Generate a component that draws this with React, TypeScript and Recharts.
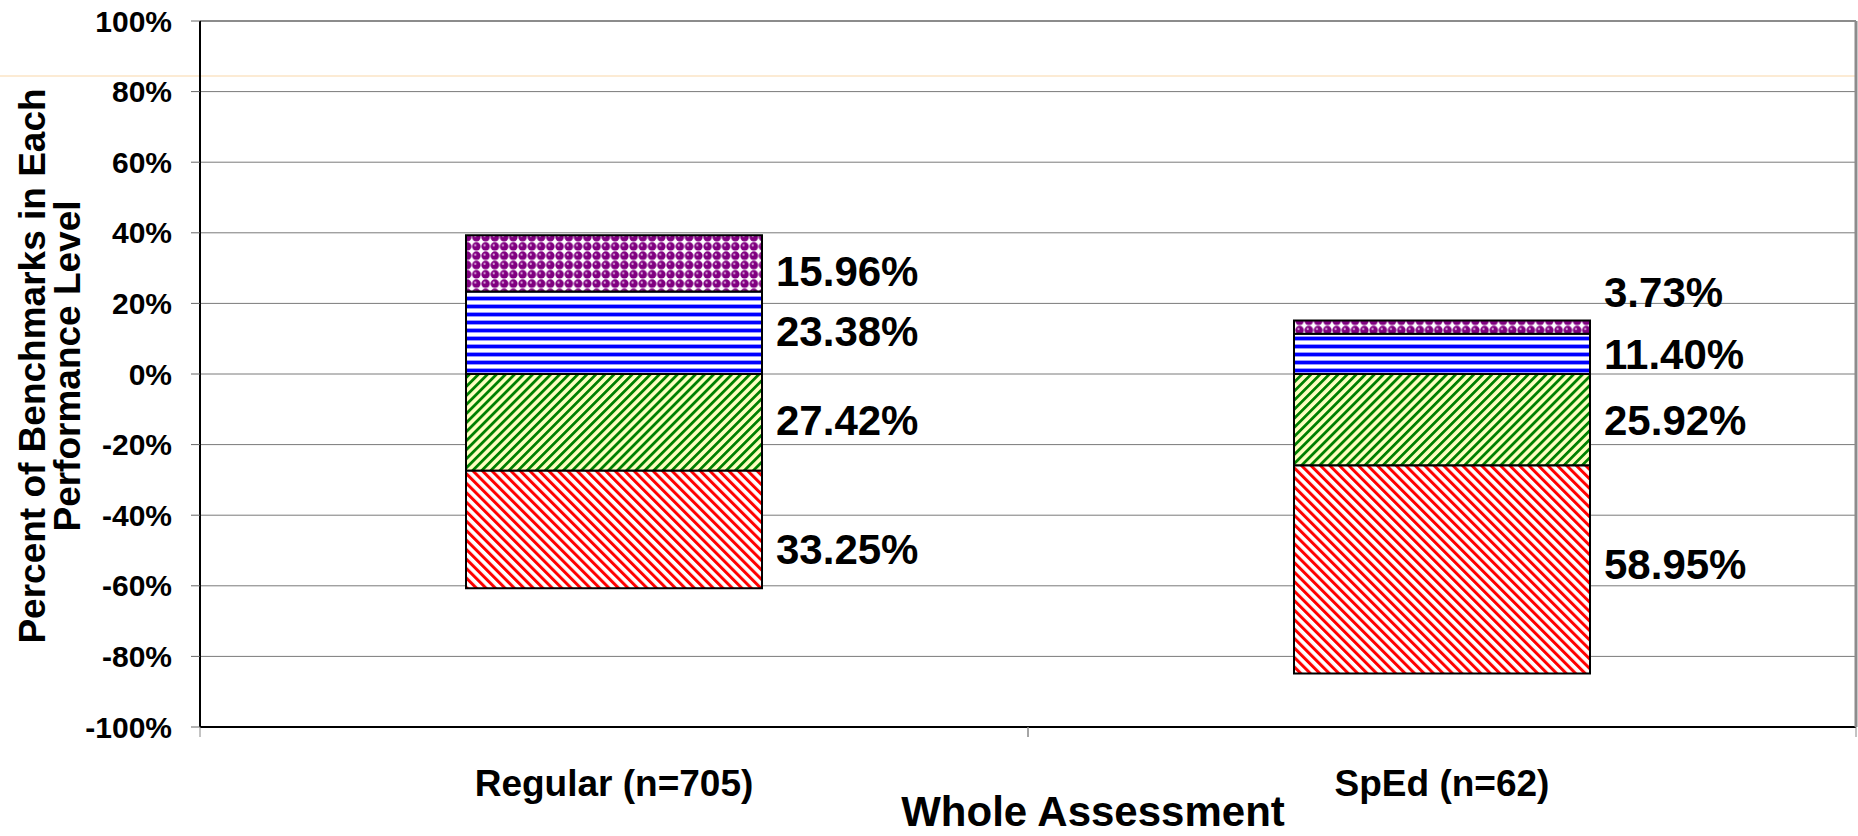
import { BarChart, Bar, XAxis, YAxis, CartesianGrid, ReferenceLine, LabelList, Label } from "recharts";

const CATEGORIES = ["Regular (n=705)", "SpEd (n=62)"];
// performance levels, stacked outwards from 0
const ABOVE = [15.96, 3.73];
const MEETS = [23.38, 11.4];
const BELOW = [-27.42, -25.92];
const FAR_BELOW = [-33.25, -58.95];
const Y_TICKS = [-100, -80, -60, -40, -20, 0, 20, 40, 60, 80, 100];

const data = CATEGORIES.map((name, i) => ({
  name,
  above: ABOVE[i],
  meets: MEETS[i],
  below: BELOW[i],
  farBelow: FAR_BELOW[i],
}));

const FONT = "'Liberation Sans', Arial, sans-serif";
const BAND = 828;

// small vertical shifts Excel applied to keep labels apart
const makeLabel = (values: number[], nudge: number[]) => (props: any) => {
  const { x, y, width, height, index } = props;
  return (
    <text
      x={x + width + 14}
      y={y + height / 2 + nudge[index]}
      dy="0.36em"
      fontFamily={FONT}
      fontSize={42}
      fontWeight="bold"
      fill="#000"
    >
      {Math.abs(values[index]).toFixed(2)}%
    </text>
  );
};

function CategoryTick({ x, y, payload }: any) {
  return (
    <g>
      <line x1={x - BAND / 2} x2={x - BAND / 2} y1={y} y2={y + 10} stroke="#888" />
      <line x1={x + BAND / 2} x2={x + BAND / 2} y1={y} y2={y + 10} stroke="#888" />
      <text x={x} y={y + 69} textAnchor="middle" fontFamily={FONT} fontSize={37} fontWeight="bold" fill="#000">
        {payload.value}
      </text>
    </g>
  );
}

export default function App() {
  return (
    <div style={{ position: "absolute", left: 0, top: 0, width: 1858, height: 836, background: "#fff" }}>
      <div style={{ position: "absolute", left: 0, top: 75, width: 1856, height: 2, background: "#fcebd4" }} />
      <BarChart
        width={1858}
        height={836}
        data={data}
        stackOffset="sign"
        margin={{ top: 21, right: 0, bottom: 0, left: 0 }}
      >
        <defs>
          <pattern id="dots" width="9.25" height="9.3" patternUnits="userSpaceOnUse">
            <rect width="9.25" height="9.3" fill="#fff" />
            <circle cx="4.6" cy="4.6" r="4.3" fill="#800080" />
            <circle cx="3.5" cy="3.5" r="1.1" fill="#d9a6d9" />
          </pattern>
          <pattern id="hstripes" width="8" height="8" patternUnits="userSpaceOnUse">
            <rect width="8" height="8" fill="#fff" />
            <rect y="0" width="8" height="1" fill="#9999ff" />
            <rect y="1" width="8" height="3" fill="#0000ff" />
            <rect y="4" width="8" height="1" fill="#9999ff" />
          </pattern>
          <pattern id="greenDiag" width="6.4" height="6.4" patternUnits="userSpaceOnUse" patternTransform="rotate(45)">
            <rect width="6.4" height="6.4" fill="#ffffc0" />
            <rect width="2.8" height="6.4" fill="#008000" />
          </pattern>
          <pattern id="redDiag" width="6.7" height="6.7" patternUnits="userSpaceOnUse" patternTransform="rotate(-45)">
            <rect width="6.7" height="6.7" fill="#fff" />
            <rect width="3" height="6.7" fill="#ff0000" />
          </pattern>
        </defs>
        <CartesianGrid vertical={false} stroke="#7a7a7a" />
        <XAxis
          dataKey="name"
          height={109}
          tickSize={0}
          tickMargin={0}
          tickLine={false}
          axisLine={{ stroke: "#000", strokeWidth: 2 }}
          tick={<CategoryTick />}
        >
          <Label
            content={() => (
              <text x={1093} y={826} textAnchor="middle" fontFamily={FONT} fontSize={42} fontWeight="bold" fill="#000">
                Whole Assessment
              </text>
            )}
          />
        </XAxis>
        <YAxis
          width={200}
          domain={[-100, 100]}
          ticks={Y_TICKS}
          interval={0}
          tickFormatter={(v: number) => `${v}%`}
          tickSize={9}
          tickMargin={19}
          tickLine={{ stroke: "#666" }}
          axisLine={{ stroke: "#000", strokeWidth: 2 }}
          tick={{ fontFamily: FONT, fontSize: 30, fontWeight: "bold", fill: "#000" }}
        >
          <Label
            content={() => (
              <g fontFamily={FONT} fontSize={37} fontWeight="bold" fill="#000" textAnchor="middle">
                <text transform="translate(32,366) rotate(-90)" dy="0.36em">Percent of Benchmarks in Each</text>
                <text transform="translate(67,366) rotate(-90)" dy="0.36em">Performance Level</text>
              </g>
            )}
          />
        </YAxis>
        <YAxis
          yAxisId="right"
          orientation="right"
          width={2}
          domain={[-100, 100]}
          tick={false}
          tickLine={false}
          axisLine={{ stroke: "#8c8c8c", strokeWidth: 3 }}
        />
        <ReferenceLine y={100} stroke="#8c8c8c" strokeWidth={2} />
        <Bar dataKey="below" stackId="a" fill="url(#greenDiag)" stroke="#000" strokeWidth={2} barSize={296} isAnimationActive={false}>
          <LabelList content={makeLabel(BELOW, [-3, 0])} />
        </Bar>
        <Bar dataKey="farBelow" stackId="a" fill="url(#redDiag)" stroke="#000" strokeWidth={2} barSize={296} isAnimationActive={false}>
          <LabelList content={makeLabel(FAR_BELOW, [19, -6])} />
        </Bar>
        <Bar dataKey="meets" stackId="a" fill="url(#hstripes)" stroke="#000" strokeWidth={2} barSize={296} isAnimationActive={false}>
          <LabelList content={makeLabel(MEETS, [-2, 0])} />
        </Bar>
        <Bar dataKey="above" stackId="a" fill="url(#dots)" stroke="#000" strokeWidth={2} barSize={296} isAnimationActive={false}>
          <LabelList content={makeLabel(ABOVE, [8, -35])} />
        </Bar>
      </BarChart>
    </div>
  );
}
